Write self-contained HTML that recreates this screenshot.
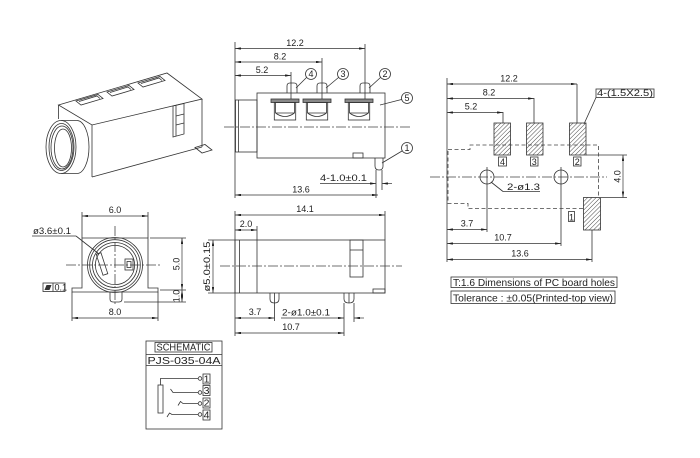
<!DOCTYPE html>
<html>
<head>
<meta charset="utf-8">
<style>
html,body{margin:0;padding:0;background:#fff}
svg{display:block}
.l{stroke:#333;stroke-width:.8;fill:none}
.c{stroke:#444;stroke-width:.8;fill:none;stroke-dasharray:10 2 2 2}
.h{stroke:#444;stroke-width:.8;fill:none;stroke-dasharray:4 2.5}
.dm{stroke:#333;stroke-width:.7;fill:none}
text{font-family:"Liberation Sans",sans-serif;font-size:9px;fill:#222}
.big{font-size:10.5px}
</style>
</head>
<body>
<svg width="700" height="458" viewBox="0 0 700 458" xmlns="http://www.w3.org/2000/svg">
<defs>
<marker id="ar" viewBox="0 0 10 4" refX="10" refY="2" markerWidth="6" markerHeight="2.4" markerUnits="userSpaceOnUse" orient="auto-start-reverse"><path d="M0,0 L10,2 L0,4 z" fill="#222"/></marker>
<pattern id="hatch" width="3" height="3" patternUnits="userSpaceOnUse" patternTransform="rotate(45)"><line x1="0" y1="0" x2="0" y2="3" stroke="#333" stroke-width="0.9"/></pattern>
</defs>
<rect width="700" height="458" fill="#fff"/>

<!-- ============ 3D VIEW ============ -->
<g class="l">
<polygon points="58.5,105 167,73 202,99 92,125"/>
<line x1="202" y1="99" x2="202" y2="147"/>
<line x1="92" y1="125" x2="92" y2="177"/>
<line x1="92" y1="177" x2="202" y2="147"/>
<line x1="58.5" y1="105" x2="58.5" y2="119"/>
<polygon points="76,101 98,94.5 103,98.5 81,105"/>
<polyline points="79,101.5 97,96 100,98.5"/>
<polygon points="107,92 129,85.5 134,89.5 112,96"/>
<polyline points="110,92.5 128,87 131,89.5"/>
<polygon points="138,83 160,76.5 165,80.5 143,87"/>
<polyline points="141,83.5 159,78 162,80.5"/>
<polygon points="173,106 184,103.5 184,134 173,137"/>
<line x1="176" y1="105.5" x2="176" y2="136"/>
<line x1="176" y1="116" x2="184" y2="114"/>
<line x1="176" y1="125" x2="184" y2="123"/>
<polygon points="195,147.5 205,144.5 212,150 202,153"/>
<path d="M61,120.5 H77 A12,26.5 0 0 1 77,173.5 H61" fill="#fff"/>
<ellipse cx="61" cy="147" rx="15" ry="26.5" fill="#fff"/>
<ellipse cx="61.5" cy="147" rx="12.5" ry="23.5"/>
<ellipse cx="62" cy="147.5" rx="11" ry="21.5"/>
<ellipse cx="63" cy="148" rx="8.5" ry="19"/>
</g>

<!-- ============ TOP SIDE VIEW ============ -->
<g class="l">
<line x1="235" y1="42" x2="235" y2="198"/>
<rect x="235.5" y="100" width="21.5" height="52"/>
<line x1="238.5" y1="100" x2="238.5" y2="152"/>
<rect x="257" y="93" width="128" height="65"/>
<path d="M287,93 V86 Q287,83 290,83 H294 Q297,83 297,86 V93"/>
<path d="M317,93 V86 Q317,83 320,83 H324 Q327,83 327,86 V93"/>
<path d="M360,93 V86 Q360,83 363,83 H367 Q370,83 370,86 V93"/>
<rect x="271" y="99" width="28" height="3.5" fill="#888"/>
<rect x="274.3" y="102.5" width="21.4" height="17.5"/>
<line x1="275.5" y1="102.5" x2="275.5" y2="113"/><line x1="294.5" y1="102.5" x2="294.5" y2="113"/>
<line x1="275.5" y1="113" x2="294.5" y2="113"/>
<path d="M275.5,113 Q285,120 294.5,113"/>
<rect x="303" y="99" width="28" height="3.5" fill="#888"/>
<rect x="306.3" y="102.5" width="21.4" height="17.5"/>
<line x1="307.5" y1="102.5" x2="307.5" y2="113"/><line x1="326.5" y1="102.5" x2="326.5" y2="113"/>
<line x1="307.5" y1="113" x2="326.5" y2="113"/>
<path d="M307.5,113 Q317,120 326.5,113"/>
<rect x="345" y="99" width="28" height="3.5" fill="#888"/>
<rect x="348.3" y="102.5" width="21.4" height="17.5"/>
<line x1="349.5" y1="102.5" x2="349.5" y2="113"/><line x1="368.5" y1="102.5" x2="368.5" y2="113"/>
<line x1="349.5" y1="113" x2="368.5" y2="113"/>
<path d="M349.5,113 Q359,120 368.5,113"/>
<line x1="291" y1="72" x2="291" y2="99"/>
<line x1="322" y1="58" x2="322" y2="99"/>
<line x1="365" y1="44" x2="365" y2="99"/>
<rect x="353" y="153" width="10" height="5"/>
<path d="M375,158 V166 Q375,170 379,170 Q383,170 383,166 V158"/>
<line x1="376" y1="170" x2="376" y2="198"/>
<line x1="382" y1="170" x2="382" y2="190"/>
<line x1="306.5" y1="77.5" x2="296" y2="88"/>
<line x1="338.5" y1="77.5" x2="326" y2="88"/>
<line x1="380.5" y1="77.5" x2="369" y2="88"/>
<line x1="401.5" y1="99.5" x2="380" y2="105"/>
<line x1="402" y1="151" x2="382" y2="163"/>
<circle cx="311" cy="74" r="5.5"/>
<circle cx="343" cy="74" r="5.5"/>
<circle cx="385" cy="74" r="5.5"/>
<circle cx="407" cy="98" r="5.5"/>
<circle cx="407" cy="148" r="5.5"/>
</g>
<line class="c" x1="224" y1="127" x2="412" y2="127"/>
<text x="311" y="77" text-anchor="middle" font-size="8">4</text>
<text x="343" y="77" text-anchor="middle" font-size="8">3</text>
<text x="385" y="77" text-anchor="middle" font-size="8">2</text>
<text x="407" y="101" text-anchor="middle" font-size="8">5</text>
<text x="407" y="151" text-anchor="middle" font-size="8">1</text>
<line class="dm" x1="235" y1="48.5" x2="365" y2="48.5" marker-start="url(#ar)" marker-end="url(#ar)"/>
<text x="295" y="46" text-anchor="middle">12.2</text>
<line class="dm" x1="235" y1="62" x2="322" y2="62" marker-start="url(#ar)" marker-end="url(#ar)"/>
<text x="280" y="59.5" text-anchor="middle">8.2</text>
<line class="dm" x1="235" y1="75.5" x2="291" y2="75.5" marker-start="url(#ar)" marker-end="url(#ar)"/>
<text x="262" y="73" text-anchor="middle">5.2</text>
<line class="dm" x1="320" y1="183.5" x2="376" y2="183.5" marker-end="url(#ar)"/>
<line class="dm" x1="392" y1="183.5" x2="382" y2="183.5" marker-end="url(#ar)"/>
<text x="320" y="181" textLength="47" lengthAdjust="spacingAndGlyphs">4-1.0±0.1</text>
<line class="dm" x1="235" y1="195" x2="378" y2="195" marker-start="url(#ar)" marker-end="url(#ar)"/>
<text x="301" y="192.5" text-anchor="middle">13.6</text>

<!-- ============ FRONT VIEW ============ -->
<g class="l">
<path d="M82,238 H148 V288 H158 V292 H72 V288 H82 Z"/>
<line x1="82" y1="212" x2="82" y2="238"/>
<line x1="148" y1="212" x2="148" y2="238"/>
<circle cx="115" cy="265" r="27.5"/>
<circle cx="115" cy="265" r="25.3"/>
<circle cx="115" cy="265" r="22.5"/>
<circle cx="115" cy="265" r="19.6"/>
<rect x="99.5" y="253" width="5" height="22" transform="rotate(-18 102 264)"/>
<rect x="125" y="259" width="8" height="11"/>
<rect x="127" y="261.5" width="4" height="6"/>
<path d="M110,292 V299 Q110,302 113,302 H119 Q122,302 122,299 V292"/>
<line x1="150" y1="238" x2="186" y2="238"/>
<line x1="160" y1="290" x2="186" y2="290"/>
<line x1="124" y1="302" x2="186" y2="302"/>
<line x1="72" y1="292" x2="72" y2="321"/>
<line x1="158" y1="292" x2="158" y2="321"/>
<line x1="32" y1="236" x2="76" y2="236"/>
<line x1="76" y1="236" x2="99" y2="254"/>
<rect x="43" y="283" width="22" height="8.5"/>
<line x1="53" y1="283" x2="53" y2="291.5"/>
</g>
<polygon points="44.5,290 46.5,285 51.5,285 49.5,290" fill="#333"/>
<text x="54.5" y="290.5" font-size="8">0.1</text>
<line class="c" x1="66" y1="265" x2="162" y2="265"/>
<line class="c" x1="115" y1="226" x2="115" y2="305"/>
<line class="dm" x1="82" y1="216" x2="148" y2="216" marker-start="url(#ar)" marker-end="url(#ar)"/>
<text x="115" y="213" text-anchor="middle">6.0</text>
<text x="33" y="234" textLength="38" lengthAdjust="spacingAndGlyphs">ø3.6±0.1</text>
<line class="dm" x1="182" y1="238" x2="182" y2="290" marker-start="url(#ar)" marker-end="url(#ar)"/>
<line class="dm" x1="182" y1="290" x2="182" y2="302" marker-start="url(#ar)" marker-end="url(#ar)"/>
<text transform="translate(179.5,264) rotate(-90)" text-anchor="middle">5.0</text>
<text transform="translate(179.5,296) rotate(-90)" text-anchor="middle" font-size="8">1.0</text>
<line class="dm" x1="72" y1="318" x2="158" y2="318" marker-start="url(#ar)" marker-end="url(#ar)"/>
<text x="115" y="315" text-anchor="middle">8.0</text>

<!-- ============ SIDE VIEW 2 ============ -->
<g class="l">
<rect x="235" y="240" width="150" height="53"/>
<line x1="239.5" y1="240" x2="239.5" y2="293"/>
<line x1="257" y1="226" x2="257" y2="293"/>
<line x1="235" y1="211" x2="235" y2="336"/>
<line x1="385" y1="211" x2="385" y2="240"/>
<rect x="350" y="240" width="13" height="37"/>
<line x1="350" y1="250" x2="363" y2="250"/>
<rect x="373" y="289" width="12" height="4"/>
<path d="M270,293 V299 Q270,303 274.5,303 Q279,303 279,299 V293"/>
<path d="M344,293 V299 Q344,303 349,303 Q354,303 354,299 V293"/>
<line x1="274.5" y1="293" x2="274.5" y2="321"/>
<line x1="349" y1="293" x2="349" y2="303"/>
<line x1="344" y1="303" x2="344" y2="336"/>
<line x1="354" y1="303" x2="354" y2="322"/>
<line x1="208" y1="240" x2="235" y2="240"/>
<line x1="208" y1="293" x2="235" y2="293"/>
</g>
<line class="c" x1="220" y1="266" x2="402" y2="266"/>
<line class="dm" x1="235" y1="215" x2="385" y2="215" marker-start="url(#ar)" marker-end="url(#ar)"/>
<text x="305" y="212" text-anchor="middle">14.1</text>
<line class="dm" x1="235" y1="230" x2="257" y2="230" marker-start="url(#ar)" marker-end="url(#ar)"/>
<text x="246" y="227" text-anchor="middle">2.0</text>
<line class="dm" x1="213" y1="240" x2="213" y2="293" marker-start="url(#ar)" marker-end="url(#ar)"/>
<text transform="translate(210,266.5) rotate(-90)" text-anchor="middle" textLength="50" lengthAdjust="spacingAndGlyphs">ø5.0±0.15</text>
<line class="dm" x1="235" y1="318" x2="274.5" y2="318" marker-start="url(#ar)" marker-end="url(#ar)"/>
<text x="255" y="315" text-anchor="middle">3.7</text>
<line class="dm" x1="281" y1="318" x2="344" y2="318" marker-end="url(#ar)"/>
<line class="dm" x1="364" y1="318" x2="354" y2="318" marker-end="url(#ar)"/>
<text x="282" y="315.5" textLength="48" lengthAdjust="spacingAndGlyphs">2-ø1.0±0.1</text>
<line class="dm" x1="235" y1="333" x2="344" y2="333" marker-start="url(#ar)" marker-end="url(#ar)"/>
<text x="291" y="330" text-anchor="middle">10.7</text>

<!-- ============ SCHEMATIC ============ -->
<g class="l">
<rect x="146" y="341" width="76" height="88"/>
<rect x="155" y="342.5" width="57" height="9.5"/>
<line x1="146" y1="354.5" x2="222" y2="354.5"/>
<line x1="146" y1="365.5" x2="222" y2="365.5"/>
<rect x="158" y="385" width="5" height="28"/>
<path d="M160.5,385 V378.5 H198"/>
<path d="M170.5,389 L173,392.5 H198"/>
<path d="M178,405.5 L180.5,401.5 L183,403.5 H198"/>
<path d="M167,417 L169.5,413 L172,414.5 H198"/>
<circle cx="200" cy="378.5" r="1.8"/>
<circle cx="200" cy="392.5" r="1.8"/>
<circle cx="200" cy="403.5" r="1.8"/>
<circle cx="200" cy="414.5" r="1.8"/>
<rect x="203" y="374" width="7" height="10"/>
<rect x="203" y="385.5" width="7" height="10"/>
<rect x="203" y="398" width="7" height="10"/>
<rect x="203" y="410" width="7" height="10"/>
</g>
<text x="183.5" y="350.5" class="big" text-anchor="middle" textLength="54" lengthAdjust="spacingAndGlyphs">SCHEMATIC</text>
<text x="147.5" y="364" class="big" textLength="73" lengthAdjust="spacingAndGlyphs">PJS-035-04A</text>
<text x="206.5" y="382.5" class="big" text-anchor="middle">1</text>
<text x="206.5" y="394" class="big" text-anchor="middle">3</text>
<text x="206.5" y="406.5" class="big" text-anchor="middle">2</text>
<text x="206.5" y="418.5" class="big" text-anchor="middle">4</text>

<!-- ============ PCB LAYOUT ============ -->
<g class="l">
<line x1="447" y1="78" x2="447" y2="262"/>
<line x1="503" y1="112" x2="503" y2="123"/>
<line x1="534" y1="98" x2="534" y2="123"/>
<line x1="577" y1="84" x2="577" y2="123"/>
<circle cx="487" cy="177" r="7"/>
<circle cx="561" cy="177" r="7"/>
<line x1="487" y1="167" x2="487" y2="232"/>
<line x1="561" y1="167" x2="561" y2="246"/>
<line x1="592" y1="230" x2="592" y2="262"/>
<line x1="586" y1="155" x2="627" y2="155"/>
<line x1="601" y1="197.5" x2="627" y2="197.5"/>
<line x1="491" y1="182" x2="503" y2="191.5"/>
<line x1="503" y1="191.5" x2="540" y2="191.5"/>
<line x1="596" y1="97.5" x2="584" y2="124"/>
<rect x="596" y="89" width="58" height="8.5"/>
<rect x="498.5" y="157" width="8" height="9"/>
<rect x="530.5" y="157" width="7.5" height="9"/>
<rect x="573.5" y="157" width="7.5" height="9"/>
<rect x="568.5" y="211.5" width="6" height="10"/>
</g>
<path class="h" d="M448,149.5 H470 V145 H598.5 V197 M583,208.5 H468 V203.5 H448 V149.5"/>
<rect x="494" y="123" width="16.5" height="32" fill="url(#hatch)" stroke="#333" stroke-width=".8"/>
<rect x="526.5" y="123" width="16.5" height="32" fill="url(#hatch)" stroke="#333" stroke-width=".8"/>
<rect x="569.5" y="123" width="16.5" height="32" fill="url(#hatch)" stroke="#333" stroke-width=".8"/>
<rect x="583.5" y="197.5" width="17" height="32.5" fill="url(#hatch)" stroke="#333" stroke-width=".8"/>
<line class="c" x1="430" y1="177" x2="607" y2="177"/>
<text x="502.5" y="165" text-anchor="middle" font-size="8.5">4</text>
<text x="534.2" y="165" text-anchor="middle" font-size="8.5">3</text>
<text x="577.2" y="165" text-anchor="middle" font-size="8.5">2</text>
<text x="571.5" y="220.5" text-anchor="middle" font-size="8.5">1</text>
<text x="597" y="96" font-size="8.5" textLength="56" lengthAdjust="spacingAndGlyphs">4-(1.5X2.5)</text>
<line class="dm" x1="447" y1="84" x2="577" y2="84" marker-start="url(#ar)" marker-end="url(#ar)"/>
<text x="509" y="81.5" text-anchor="middle">12.2</text>
<line class="dm" x1="447" y1="98.5" x2="534" y2="98.5" marker-start="url(#ar)" marker-end="url(#ar)"/>
<text x="489" y="95.5" text-anchor="middle">8.2</text>
<line class="dm" x1="447" y1="112.5" x2="503" y2="112.5" marker-start="url(#ar)" marker-end="url(#ar)"/>
<text x="471" y="109.5" text-anchor="middle">5.2</text>
<text x="507" y="190" textLength="33" lengthAdjust="spacingAndGlyphs">2-ø1.3</text>
<line class="dm" x1="623" y1="155" x2="623" y2="197.5" marker-start="url(#ar)" marker-end="url(#ar)"/>
<text transform="translate(620.5,176.5) rotate(-90)" text-anchor="middle">4.0</text>
<line class="dm" x1="447" y1="229.5" x2="487" y2="229.5" marker-start="url(#ar)" marker-end="url(#ar)"/>
<text x="467" y="226.5" text-anchor="middle">3.7</text>
<line class="dm" x1="447" y1="243.5" x2="561" y2="243.5" marker-start="url(#ar)" marker-end="url(#ar)"/>
<text x="503" y="240.5" text-anchor="middle">10.7</text>
<line class="dm" x1="447" y1="259.5" x2="592" y2="259.5" marker-start="url(#ar)" marker-end="url(#ar)"/>
<text x="520" y="256.5" text-anchor="middle">13.6</text>

<rect x="451" y="277" width="166" height="10.5" class="l"/>
<text x="453" y="286" class="big" textLength="162" lengthAdjust="spacingAndGlyphs">T:1.6 Dimensions of PC board holes</text>
<rect x="451" y="291" width="164" height="12.5" class="l"/>
<text x="453" y="301.5" class="big" textLength="160" lengthAdjust="spacingAndGlyphs">Tolerance : ±0.05(Printed-top view)</text>
</svg>
</body>
</html>
